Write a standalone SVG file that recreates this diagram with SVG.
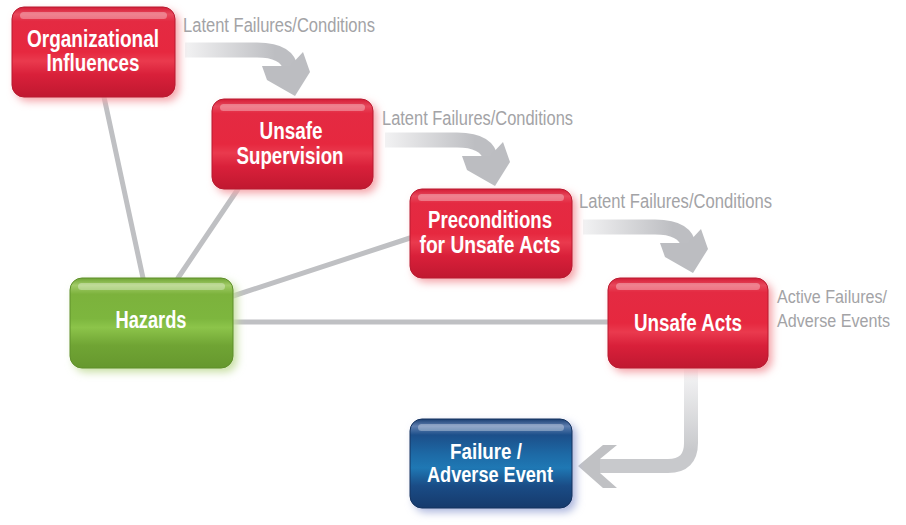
<svg xmlns="http://www.w3.org/2000/svg" width="906" height="525" viewBox="0 0 906 525">
<style>
.nt{font-family:"Liberation Sans",Arial,sans-serif;font-weight:bold;font-size:23px;fill:#ffffff;text-anchor:middle}
.ns{font-size:21.5px}
.lbl{font-family:"Liberation Sans",Arial,sans-serif;font-size:19.5px;fill:#a3a3a6}
.lbs{font-size:17.5px}
.ln{stroke:#bfc0c3;stroke-width:5;fill:none;stroke-linecap:round}
.hl{fill:#ffffff;opacity:0.32}
</style>
<defs>
<linearGradient id="gRed" x1="0" y1="0" x2="0" y2="1">
<stop offset="0" stop-color="#d41c36"/>
<stop offset="0.08" stop-color="#e8485c"/>
<stop offset="0.16" stop-color="#e42a42"/>
<stop offset="0.5" stop-color="#e6283f"/>
<stop offset="0.6" stop-color="#ea3a4e"/>
<stop offset="0.75" stop-color="#d9203a"/>
<stop offset="1" stop-color="#c01830"/>
</linearGradient>
<linearGradient id="gGreen" x1="0" y1="0" x2="0" y2="1">
<stop offset="0" stop-color="#6ea334"/>
<stop offset="0.08" stop-color="#a2cc68"/>
<stop offset="0.18" stop-color="#7cb23c"/>
<stop offset="0.45" stop-color="#7db63e"/>
<stop offset="0.55" stop-color="#8cc44a"/>
<stop offset="0.75" stop-color="#70a434"/>
<stop offset="1" stop-color="#66982e"/>
</linearGradient>
<linearGradient id="gBlue" x1="0" y1="0" x2="0" y2="1">
<stop offset="0" stop-color="#1a3f72"/>
<stop offset="0.08" stop-color="#5f7fb0"/>
<stop offset="0.18" stop-color="#1c4f8a"/>
<stop offset="0.4" stop-color="#1d6aa6"/>
<stop offset="0.55" stop-color="#1f78b4"/>
<stop offset="0.75" stop-color="#1a4c86"/>
<stop offset="1" stop-color="#163a6c"/>
</linearGradient>
<linearGradient id="gArrow" gradientUnits="userSpaceOnUse" x1="0" y1="0" x2="90" y2="0">
<stop offset="0" stop-color="#f2f2f3"/>
<stop offset="1" stop-color="#bdbec2"/>
</linearGradient>
<linearGradient id="gDown" gradientUnits="userSpaceOnUse" x1="0" y1="368" x2="0" y2="450">
<stop offset="0" stop-color="#f6f6f7"/>
<stop offset="1" stop-color="#c8c9cc"/>
</linearGradient>
<filter id="blur" x="-30%" y="-30%" width="160%" height="160%">
<feGaussianBlur stdDeviation="4"/>
</filter>
<g id="latent">
<path d="M0 0 H72 Q103 0 106 20" fill="none" stroke="url(#gArrow)" stroke-width="15"/>
<polygon points="77,16 105,16 118,2 125,22 110,46 82,30" fill="#bcbdc1"/>
</g>
</defs>

<g id="connectors">
<line class="ln" x1="104" y1="97" x2="143" y2="278"/>
<line class="ln" x1="238" y1="189" x2="178" y2="278"/>
<line class="ln" x1="233" y1="296" x2="410" y2="238"/>
<line class="ln" x1="233" y1="322" x2="608" y2="322"/>
<use href="#latent" transform="translate(185,50)"/>
<use href="#latent" transform="translate(385,140)"/>
<use href="#latent" transform="translate(583,227)"/>
<path d="M691 368 V443 Q691 466 668 466 H600" fill="none" stroke="url(#gDown)" stroke-width="14"/>
<polygon points="578,466 603,445 617,445 600,459 600,473 617,488 603,488" fill="#c0c1c4"/>
</g>

<g id="org">
<rect x="16" y="11" width="163" height="90" rx="12" fill="#f4a0a6" filter="url(#blur)"/>
<rect x="12" y="7" width="163" height="90" rx="12" fill="url(#gRed)" stroke="#b81a30" stroke-width="1"/>
<rect class="hl" x="20" y="12" width="147" height="7" rx="3.5"/>
<text class="nt" x="93" y="47" textLength="132" lengthAdjust="spacingAndGlyphs">Organizational</text>
<text class="nt" x="93" y="71" textLength="93" lengthAdjust="spacingAndGlyphs">Influences</text>
</g>

<g id="supervision">
<rect x="216" y="103" width="161" height="90" rx="12" fill="#f4a0a6" filter="url(#blur)"/>
<rect x="212" y="99" width="161" height="90" rx="12" fill="url(#gRed)" stroke="#b81a30" stroke-width="1"/>
<rect class="hl" x="220" y="104" width="145" height="7" rx="3.5"/>
<text class="nt" x="291" y="139" textLength="63" lengthAdjust="spacingAndGlyphs">Unsafe</text>
<text class="nt" x="290" y="164" textLength="107" lengthAdjust="spacingAndGlyphs">Supervision</text>
</g>

<g id="preconditions">
<rect x="414" y="193" width="162" height="89" rx="12" fill="#f4a0a6" filter="url(#blur)"/>
<rect x="410" y="189" width="162" height="89" rx="12" fill="url(#gRed)" stroke="#b81a30" stroke-width="1"/>
<rect class="hl" x="418" y="194" width="146" height="7" rx="3.5"/>
<text class="nt" x="490" y="228" textLength="124" lengthAdjust="spacingAndGlyphs">Preconditions</text>
<text class="nt" x="490" y="253" textLength="141" lengthAdjust="spacingAndGlyphs">for Unsafe Acts</text>
</g>

<g id="unsafe-acts">
<rect x="612" y="282" width="160" height="90" rx="12" fill="#f4a0a6" filter="url(#blur)"/>
<rect x="608" y="278" width="160" height="90" rx="12" fill="url(#gRed)" stroke="#b81a30" stroke-width="1"/>
<rect class="hl" x="616" y="283" width="144" height="7" rx="3.5"/>
<text class="nt" x="688" y="331" textLength="108" lengthAdjust="spacingAndGlyphs">Unsafe Acts</text>
</g>

<g id="hazards">
<rect x="74" y="282" width="163" height="90" rx="12" fill="#c6dea0" filter="url(#blur)"/>
<rect x="70" y="278" width="163" height="90" rx="12" fill="url(#gGreen)" stroke="#5f8f2a" stroke-width="1"/>
<rect class="hl" x="78" y="283" width="147" height="7" rx="3.5"/>
<text class="nt" x="151" y="328" textLength="71" lengthAdjust="spacingAndGlyphs">Hazards</text>
</g>

<g id="failure">
<rect x="414" y="423" width="162" height="89" rx="12" fill="#a9b3dc" filter="url(#blur)"/>
<rect x="410" y="419" width="162" height="89" rx="12" fill="url(#gBlue)" stroke="#14325e" stroke-width="1"/>
<rect class="hl" x="418" y="424" width="146" height="7" rx="3.5"/>
<text class="nt ns" x="486" y="459" textLength="72" lengthAdjust="spacingAndGlyphs">Failure /</text>
<text class="nt ns" x="490" y="482" textLength="126" lengthAdjust="spacingAndGlyphs">Adverse Event</text>
</g>

<g id="labels">
<text class="lbl" x="183" y="32" textLength="192" lengthAdjust="spacingAndGlyphs">Latent Failures/Conditions</text>
<text class="lbl" x="382" y="125" textLength="191" lengthAdjust="spacingAndGlyphs">Latent Failures/Conditions</text>
<text class="lbl" x="579" y="208" textLength="193" lengthAdjust="spacingAndGlyphs">Latent Failures/Conditions</text>
<text class="lbl lbs" x="777" y="303" textLength="110" lengthAdjust="spacingAndGlyphs">Active Failures/</text>
<text class="lbl lbs" x="777" y="327" textLength="113" lengthAdjust="spacingAndGlyphs">Adverse Events</text>
</g>
</svg>
